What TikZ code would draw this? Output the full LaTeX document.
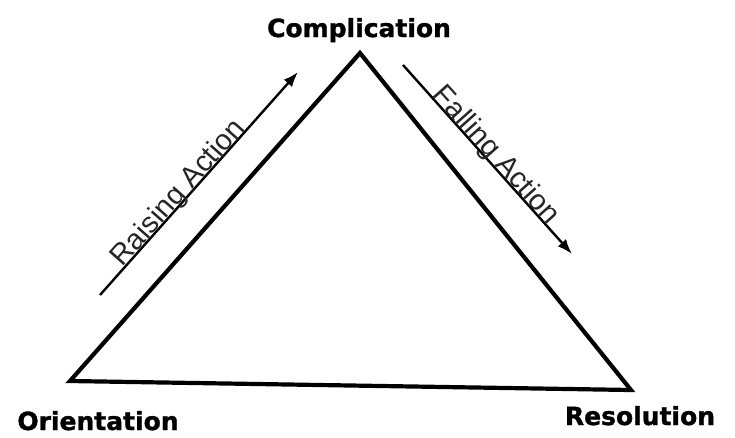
\documentclass[tikz,border=0pt]{standalone}
\usepackage{fontspec}
\setmainfont{Liberation Sans}
\newfontfamily\headfont{DejaVu Sans Bold}[FakeBold=1.2]
\usetikzlibrary{arrows.meta}
\tikzset{
  heading/.style={font=\headfont\fontsize{25}{28}\selectfont, inner sep=0pt, anchor=base},
  tri/.style={line width=4.2pt, line join=miter},
  actarrow/.style={line width=2.4pt, -{Latex[length=15pt,width=11pt]}},
  actlabel/.style={font=\fontsize{29}{32}\selectfont, sloped, anchor=base, inner sep=0pt, text=black!85}
}
\begin{document}
\begin{tikzpicture}[x=1pt,y=1pt]
\useasboundingbox (0,-437) rectangle (735,0);
\coordinate (top) at (360,-53);
\coordinate (bl) at (70,-381);
\coordinate (br) at (631,-390);
\draw[tri] (top) -- (bl) -- (br) -- cycle;
\node[heading] (comp) at (359,-37) {Complication};
\node[heading] (orient) at (98,-430) {Orientation};
\node[heading] (resol) at (640,-425) {Resolution};
\coordinate (ra1) at (100,-295);
\coordinate (ra2) at (298,-72);
\coordinate (fa1) at (403,-65);
\coordinate (fa2) at (572,-254);
\draw[actarrow] (ra1) -- node[actlabel, pos=0.43, yshift=1pt] (rlab) {Raising Action} (ra2);
\draw[actarrow] (fa1) -- node[actlabel, pos=0.51, yshift=1pt] (flab) {Falling Action} (fa2);
\end{tikzpicture}
\end{document}
